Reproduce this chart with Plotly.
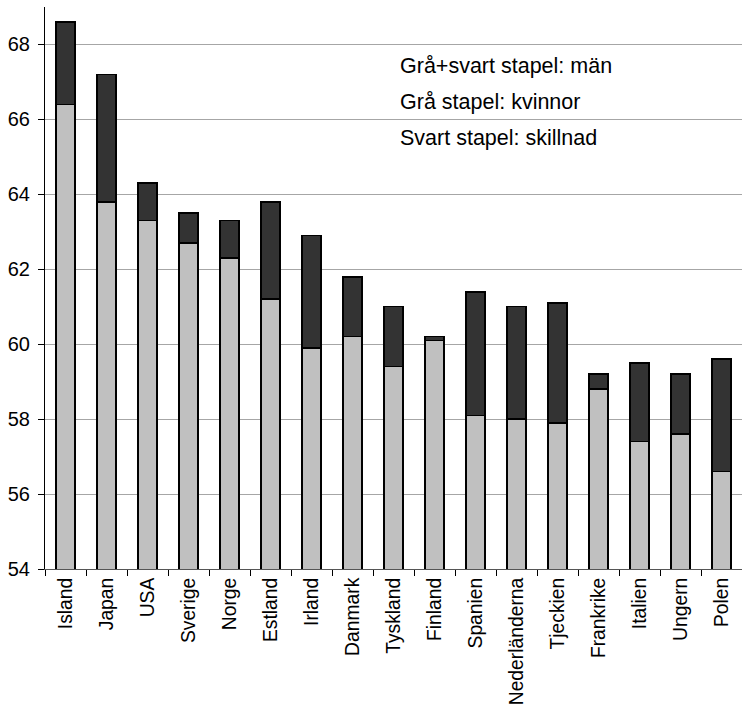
import plotly.graph_objects as go

# Countries, ordered as on the axis
countries = ["Island", "Japan", "USA", "Sverige", "Norge", "Estland", "Irland",
             "Danmark", "Tyskland", "Finland", "Spanien", "Nederländerna",
             "Tjeckien", "Frankrike", "Italien", "Ungern", "Polen"]

# Average age values per country
men = [68.6, 67.2, 64.3, 63.5, 63.3, 63.8, 62.9, 61.8, 61.0, 60.2,
       61.4, 61.0, 61.1, 59.2, 59.5, 59.2, 59.6]
women = [66.4, 63.8, 63.3, 62.7, 62.3, 61.2, 59.9, 60.2, 59.4, 60.1,
         58.1, 58.0, 57.9, 58.8, 57.4, 57.6, 56.6]

# Difference between men and women (black segment on top of the grey one)
diff = [round(m - w, 2) for m, w in zip(men, women)]

y_ticks = [54, 56, 58, 60, 62, 64, 66, 68]

notes = ["Grå+svart stapel: män", "Grå stapel: kvinnor", "Svart stapel: skillnad"]

FONT = "Liberation Sans, Arial, sans-serif"

fig = go.Figure()
fig.add_trace(go.Bar(
    x=countries, y=women, name="kvinnor",
    marker=dict(color="#C0C0C0", line=dict(color="#000000", width=1.5)),
))
fig.add_trace(go.Bar(
    x=countries, y=diff, name="skillnad",
    marker=dict(color="#333333", line=dict(color="#000000", width=1.5)),
))

for i, txt in enumerate(notes):
    fig.add_annotation(
        text=txt, xref="paper", yref="paper",
        x=0.506, y=0.895 - i * 0.064,
        xanchor="left", yanchor="middle", showarrow=False,
        font=dict(family=FONT, size=21.5, color="#000000"),
    )

fig.update_layout(
    width=742, height=704,
    margin=dict(l=45, r=0, t=7, b=135),
    barmode="stack", bargap=0.54,
    showlegend=False,
    plot_bgcolor="white", paper_bgcolor="white",
    font=dict(family=FONT, size=19, color="#000000"),
    hovermode=False,
)
fig.update_xaxes(
    type="category", tickangle=-90, automargin=False,
    showline=True, linecolor="#555555", linewidth=1,
    ticks="outside", tickson="boundaries", ticklen=6, tickcolor="#000000",
    showgrid=False,
    tickfont=dict(family=FONT, size=19.3),
)
fig.update_yaxes(
    range=[54, 69], tickvals=y_ticks, automargin=False,
    showline=True, linecolor="#000000", linewidth=1,
    ticks="outside", ticklen=6, tickcolor="#000000",
    ticklabelstandoff=4,
    showgrid=True, gridcolor="#A6A6A6", gridwidth=1,
    zeroline=False,
    tickfont=dict(family=FONT, size=20),
)

fig.write_html("out.html")
